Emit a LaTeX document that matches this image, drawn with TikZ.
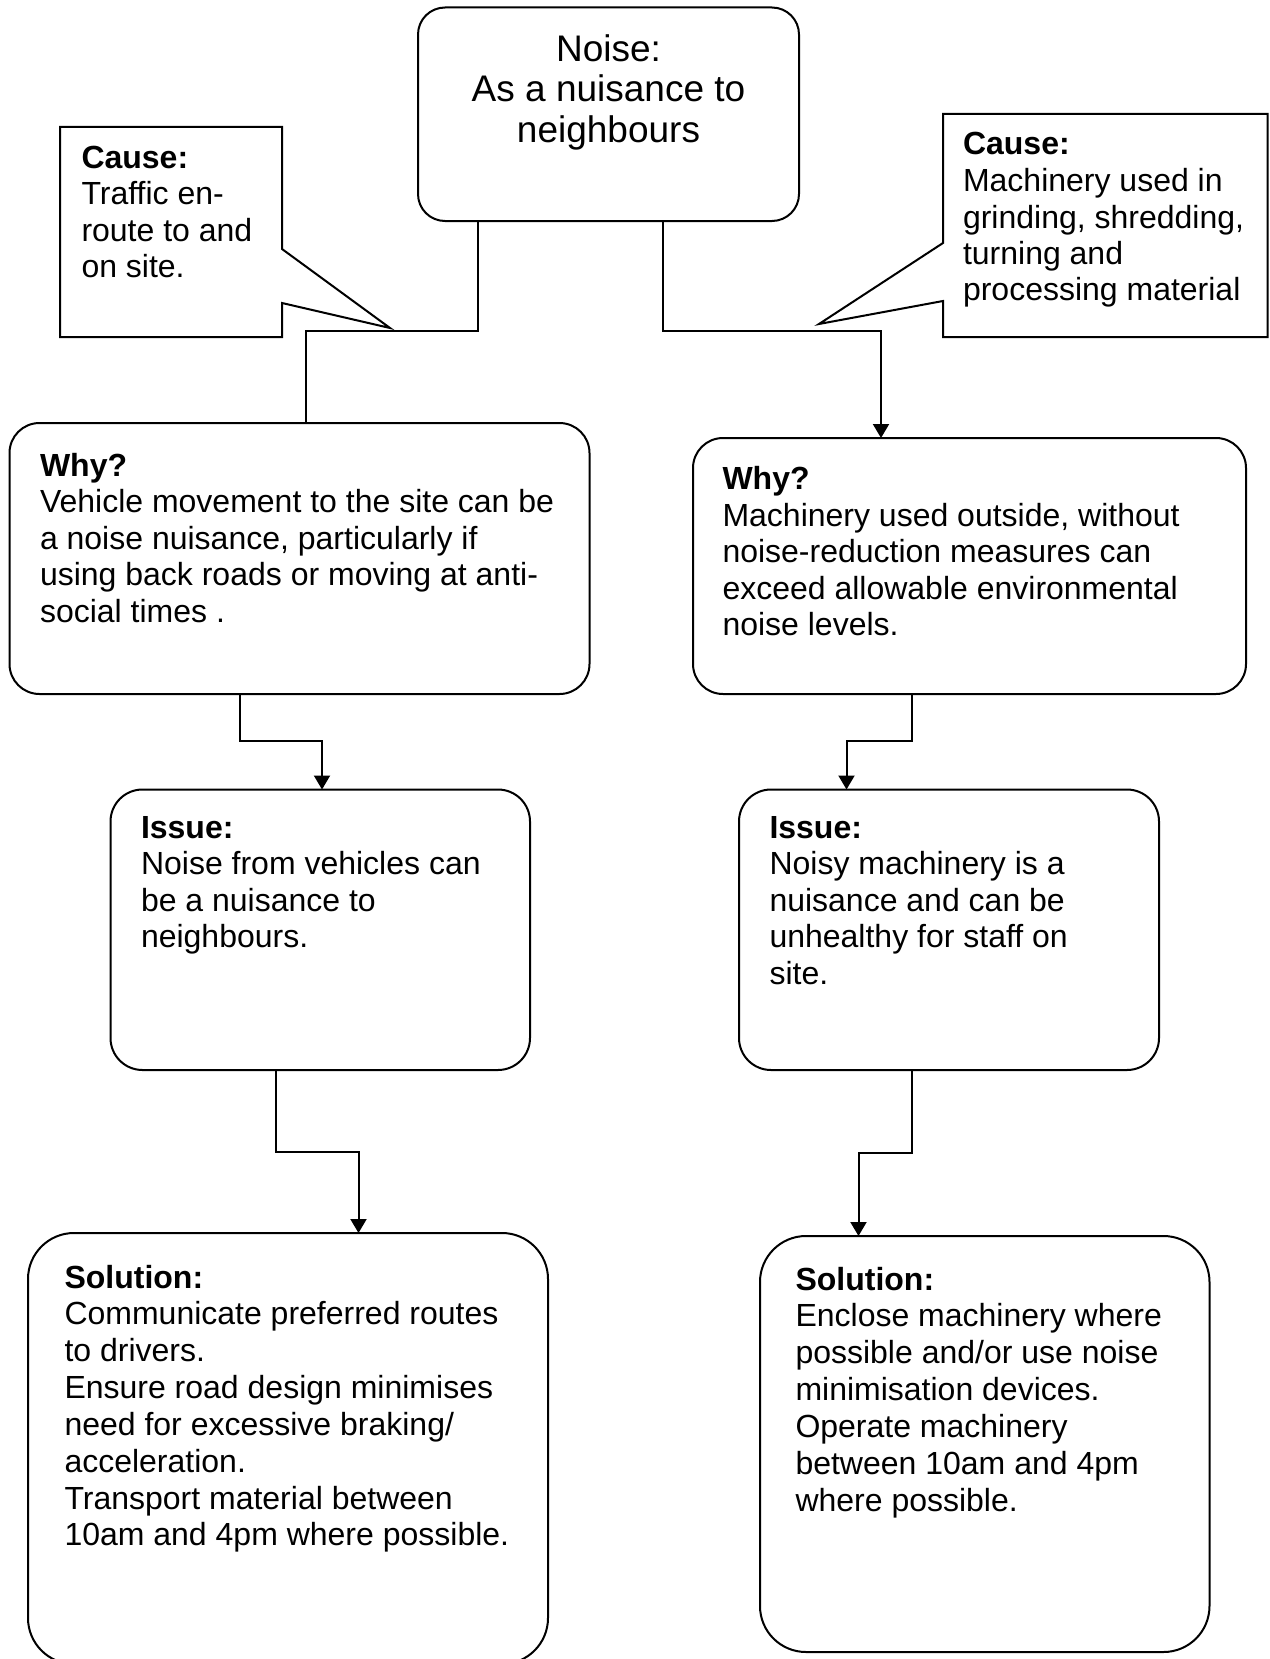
\documentclass[tikz,border=0pt]{standalone}
\usepackage{fontspec}
\setmainfont{Liberation Sans}
\usetikzlibrary{arrows.meta,calc}

% one text block, lines separated by \\, first baseline on the anchor
\newcommand{\leftlines}[1]{\begin{tabular}[t]{@{}l@{}}#1\end{tabular}}
\newcommand{\centerlines}[1]{\begin{tabular}[t]{@{}c@{}}#1\end{tabular}}

\tikzset{
  outline/.style={draw=black, line width=1pt, line join=miter},
  rbox/.style={draw=black, line width=1pt, rectangle, inner sep=0pt, outer sep=0pt, rounded corners=#1},
  frame/.style={rectangle, inner sep=0pt, outer sep=0pt},
  body/.style={inner sep=0pt, outer sep=0pt, anchor=base west, font=\fontsize{16}{18.25}\selectfont},
  bodywide/.style={inner sep=0pt, outer sep=0pt, anchor=base west, font=\fontsize{16}{18.42}\selectfont},
  title/.style={inner sep=0pt, outer sep=0pt, anchor=base, font=\fontsize{18.5}{20}\selectfont},
  link/.style={line width=1pt},
  flow/.style={line width=1pt, -{Triangle[length=7pt,width=8pt]}},
}

\begin{document}
\begin{tikzpicture}[x=0.5pt, y=-0.5pt]
\fill[white] (0,0) rectangle (1269,1659);
\useasboundingbox (0,0) rectangle (1269,1659);

% ---- boxes ----
\node[rbox=13.5pt, minimum width=190.5pt, minimum height=106.75pt] (top)    at (608.5,114.25) {};
\node[rbox=15pt,   minimum width=290pt,   minimum height=135.5pt]  (whyL)   at (299.5,558.5) {};
\node[rbox=15pt,   minimum width=276.5pt, minimum height=128pt]    (whyR)   at (969.5,566) {};
\node[rbox=16pt,   minimum width=209.75pt,minimum height=140.25pt] (issueL) at (320.25,929.75) {};
\node[rbox=16pt,   minimum width=210pt,   minimum height=140.25pt] (issueR) at (949,929.75) {};
\node[rbox=23pt,   minimum width=260pt,   minimum height=215.5pt]  (solL)   at (288,1448.5) {};
\node[rbox=23pt,   minimum width=224.75pt,minimum height=208pt]    (solR)   at (984.75,1444) {};

% ---- callouts ----
\node[frame, minimum width=111pt, minimum height=105pt] (causeL) at (171,232) {};
\coordinate (tipL) at (390,328);
\draw[outline] (causeL.north west) -- (causeL.north east)
  -- ($(causeL.north east)+(0,122)$) -- (tipL) -- ($(causeL.south east)+(0,-34)$)
  -- (causeL.south east) -- (causeL.south west) -- cycle;

\node[frame, minimum width=162.25pt, minimum height=111.5pt] (causeR) at (1105.25,225.5) {};
\coordinate (tipR) at (819,324);
\draw[outline] (causeR.north west) -- (causeR.north east) -- (causeR.south east)
  -- (causeR.south west) -- ($(causeR.south west)+(0,-36)$) -- (tipR)
  -- ($(causeR.north west)+(0,129)$) -- cycle;

% ---- texts ----
\node[title] (tTop) at (608.5,62) {\centerlines{Noise:\\ As a nuisance to\\ neighbours}};

\node[body] (tCauseL) at (81.5,168.3) {\leftlines{\textbf{Cause:}\\ Traffic en-\\ route to and\\ on site.}};
\node[body] (tCauseR) at (963,155) {\leftlines{\textbf{Cause:}\\ Machinery used in\\ grinding, shredding,\\ turning and\\ processing material}};

\node[body] (tWhyL) at (40,476) {\leftlines{\textbf{Why?}\\ Vehicle movement to the site can be\\ a noise nuisance, particularly if\\ using back roads or moving at anti-\\ social times .}};
\node[body] (tWhyR) at (722.5,489.5) {\leftlines{\textbf{Why?}\\ Machinery used outside, without\\ noise-reduction measures can\\ exceed allowable environmental\\ noise levels.}};

\node[body] (tIssueL) at (141,838) {\leftlines{\textbf{Issue:}\\ Noise from vehicles can\\ be a nuisance to\\ neighbours.}};
\node[body] (tIssueR) at (769.5,838) {\leftlines{\textbf{Issue:}\\ Noisy machinery is a\\ nuisance and can be\\ unhealthy for staff on\\ site.}};

\node[bodywide] (tSolL) at (64.5,1288) {\leftlines{\textbf{Solution:}\\ Communicate preferred routes\\ to drivers.\\ Ensure road design minimises\\ need for excessive braking/\\ acceleration.\\ Transport material between\\ 10am and 4pm where possible.}};
\node[bodywide] (tSolR) at (795.5,1290) {\leftlines{\textbf{Solution:}\\ Enclose machinery where\\ possible and/or use noise\\ minimisation devices.\\ Operate machinery\\ between 10am and 4pm\\ where possible.}};

% ---- connectors ----
\coordinate (jL) at (305.5,331);
\coordinate (jR) at (881,331);
\draw[link] ($(top.south)+(-131,0)$) |- (jL) -- (jL |- whyL.north);
\draw[flow] ($(top.south)+(54,0)$) |- (jR) -- (jR |- whyR.north);

\coordinate (j3) at (322,741);
\coordinate (j4) at (846.5,741);
\draw[flow] ($(whyL.south)+(-59.5,0)$) |- (j3) -- (j3 |- issueL.north);
\draw[flow] ($(whyR.south)+(-58,0)$) |- (j4) -- (j4 |- issueR.north);

\coordinate (j5) at (358.5,1152);
\coordinate (j6) at (858.5,1153);
\draw[flow] ($(issueL.south)+(-44.25,0)$) |- (j5) -- (j5 |- solL.north);
\draw[flow] ($(issueR.south)+(-37.5,0)$) |- (j6) -- (j6 |- solR.north);
\end{tikzpicture}
\end{document}
